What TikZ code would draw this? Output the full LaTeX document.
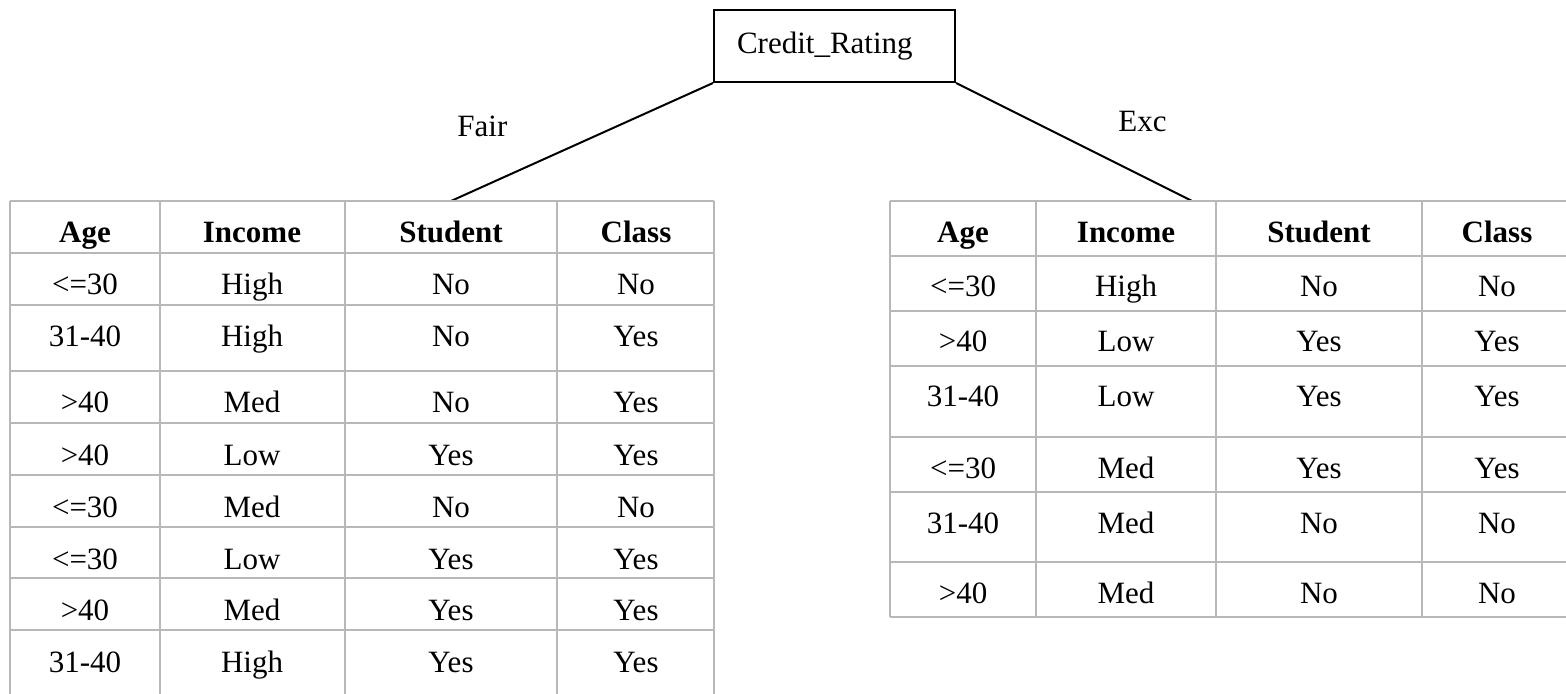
\documentclass[tikz,border=0pt]{standalone}
\usepackage{fontspec}
\setmainfont{Liberation Serif}
\usetikzlibrary{positioning}
\tikzstyle{cell} = [anchor=base, inner sep=0pt, font=\fontsize{15.5}{18}\selectfont]
\tikzstyle{head} = [cell, font=\fontsize{15.5}{18}\selectfont\bfseries]
\tikzstyle{grid} = [draw=black!28, line width=0.9pt]
\tikzstyle{branch} = [black, line width=1pt]
\tikzstyle{rootbox} = [draw=black, line width=1pt, anchor=north west, minimum height=36pt, inner xsep=11.5pt, text width=97.5pt, align=left, font=\fontsize{15.5}{18}\selectfont]

\begin{document}
\begin{tikzpicture}[x=0.5pt, y=-0.5pt]
\clip (0,0) rectangle (1566,694);
% root
\node (cr) [rootbox] at (713,9) {Credit\_Rating};
\coordinate (fairtop) at (451,201);
\coordinate (exctop) at (1192,201);
\draw[branch] (cr.south west) -- (fairtop);
\draw[branch] (cr.south east) -- (exctop);
\node (fair) [cell, anchor=base west] at (457,137) {Fair};
\node (exc) [cell, anchor=base west] at (1118,132) {Exc};
% left table
\foreach \y in {201,253,305,371,423,475,527,578,630}
  \draw[grid] (10,\y) -- (714,\y);
\foreach \x in {10,160,345,557,714}
  \draw[grid] (\x,201) -- (\x,700);
\node (fh1) [head] at (85,243) {Age};
\node (fh2) [head] at (252,243) {Income};
\node (fh3) [head] at (451,243) {Student};
\node (fh4) [head] at (636,243) {Class};
\foreach \t/\a/\b/\c/\d [count=\i] in {253/<=30/High/No/No, 305/31-40/High/No/Yes,
    371/>40/Med/No/Yes, 423/>40/Low/Yes/Yes, 475/<=30/Med/No/No,
    527/<=30/Low/Yes/Yes, 578/>40/Med/Yes/Yes, 630/31-40/High/Yes/Yes}{
  \node (fa\i) [cell] at (85,\t+42) {\a};
  \node (fb\i) [cell] at (252,\t+42) {\b};
  \node (fc\i) [cell] at (451,\t+42) {\c};
  \node (fd\i) [cell] at (636,\t+42) {\d};
}
% right table
\foreach \y in {201,256,311,366,437,492,562,617}
  \draw[grid] (890,\y) -- (1570,\y);
\foreach \x in {890,1036,1216,1422}
  \draw[grid] (\x,201) -- (\x,617);
\node (eh1) [head] at (963,243) {Age};
\node (eh2) [head] at (1126,243) {Income};
\node (eh3) [head] at (1319,243) {Student};
\node (eh4) [head] at (1497,243) {Class};
\foreach \t/\a/\b/\c/\d [count=\i] in {256/<=30/High/No/No, 311/>40/Low/Yes/Yes,
    366/31-40/Low/Yes/Yes, 437/<=30/Med/Yes/Yes, 492/31-40/Med/No/No,
    562/>40/Med/No/No}{
  \node (ea\i) [cell] at (963,\t+41) {\a};
  \node (eb\i) [cell] at (1126,\t+41) {\b};
  \node (ec\i) [cell] at (1319,\t+41) {\c};
  \node (ed\i) [cell] at (1497,\t+41) {\d};
}
\end{tikzpicture}
\end{document}
